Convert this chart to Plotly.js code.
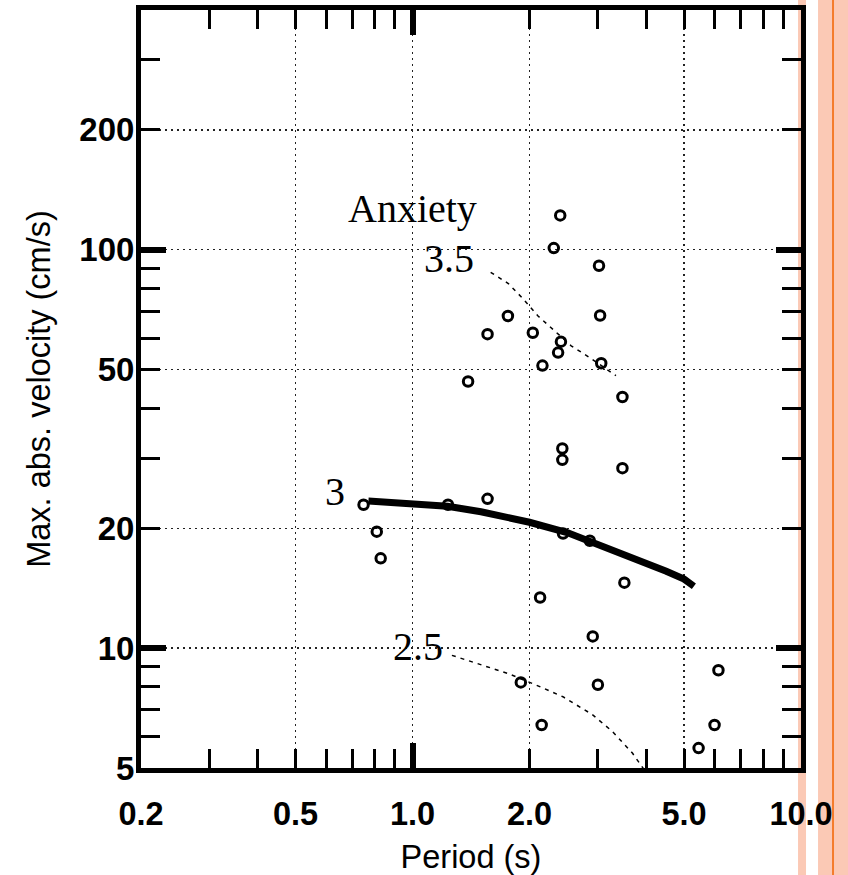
<!DOCTYPE html>
<html>
<head>
<meta charset="utf-8">
<script src="https://cdn.plot.ly/plotly-3.0.1.min.js"></script>
<style>html,body{margin:0;padding:0;background:#fff;}#chart{width:848px;height:875px;}</style>
</head>
<body>
<div id="chart"></div>
<script>
// ---- data ----
const periodX = [2.40, 2.31, 3.02, 3.04, 1.76, 1.56, 2.04, 2.41, 2.37, 2.16, 3.06, 1.39, 3.47, 2.43, 2.43, 3.47,
                 0.748, 0.809, 0.828, 1.234, 1.56, 2.44, 2.86, 3.51, 2.13, 2.91, 6.13, 1.90, 3.00, 2.15, 5.99, 5.45];
const velocityY = [122, 101, 91.2, 68.4, 68.2, 61.4, 61.9, 58.8, 55.2, 51.2, 51.9, 46.7, 42.7, 31.7, 29.7, 28.3,
                   22.9, 19.6, 16.8, 22.9, 23.7, 19.4, 18.6, 14.6, 13.4, 10.7, 8.80, 8.20, 8.09, 6.41, 6.41, 5.61];

const curve3X = [0.77, 1.0, 1.23, 1.5, 2.0, 2.5, 3.0, 3.5, 4.0, 4.5, 5.0, 5.3];
const curve3Y = [23.4, 23.1, 22.7, 22.0, 20.7, 19.5, 18.2, 17.2, 16.4, 15.6, 14.9, 14.3];

const curve35X = [1.589, 1.764, 1.934, 2.104, 2.321, 2.561, 2.852, 3.177, 3.339];
const curve35Y = [87.8, 82.3, 75.0, 68.2, 62.6, 57.4, 53.7, 50.0, 48.3];

const curve25X = [1.263, 1.493, 1.764, 2.084, 2.438, 2.909, 3.272, 3.681, 3.868, 3.93];
const curve25Y = [9.59, 9.09, 8.63, 8.07, 7.55, 6.80, 6.17, 5.45, 5.10, 4.98];

const xTickVals = [0.2, 0.5, 1, 2, 5, 10];
const xTickText = ['0.2', '0.5', '1.0', '2.0', '5.0', '10.0'];
const xMinorVals = [0.3, 0.4, 0.6, 0.7, 0.8, 0.9, 3, 4, 6, 7, 8, 9];
const xDecadeVals = [1, 10];

const yTickVals = [5, 10, 20, 50, 100, 200];
const yTickText = ['5', '10', '20', '50', '100', '200'];
const yMinorVals = [6, 7, 8, 9, 30, 40, 60, 70, 80, 90, 300];
const yDecadeVals = [10, 100];

const xRange = [0.2, 10];
const yRange = [5, 400];

const labels = [
  {text: 'Anxiety', x: 1.0, y: 127},
  {text: '3.5', x: 1.24, y: 95},
  {text: '3', x: 0.631, y: 24.7},
  {text: '2.5', x: 1.03, y: 10.1}
];

// ---- chart ----
const L = Math.log10;
const xTickFont = {family: 'Liberation Sans, Arial, sans-serif', size: 32.5, weight: 'bold', color: '#000'};
const yTickFont = {family: 'Liberation Sans, Arial, sans-serif', size: 33, weight: 'bold', color: '#000'};
const xTitleFont = {family: 'Liberation Sans, Arial, sans-serif', size: 32.5, color: '#000'};
const yTitleFont = {family: 'Liberation Sans, Arial, sans-serif', size: 32.5, color: '#000'};

const traces = [
  {x: periodX, y: velocityY, type: 'scatter', mode: 'markers',
   marker: {symbol: 'circle-open', size: 9.5, color: '#000', line: {width: 3, color: '#000'}},
   hoverinfo: 'skip'},
  {x: curve35X, y: curve35Y, type: 'scatter', mode: 'lines',
   line: {color: '#000', width: 1.5, dash: '4px,5px'}, hoverinfo: 'skip'},
  {x: curve25X, y: curve25Y, type: 'scatter', mode: 'lines',
   line: {color: '#000', width: 1.5, dash: '4px,5px'}, hoverinfo: 'skip'},
  {x: curve3X, y: curve3Y, type: 'scatter', mode: 'lines', xaxis: 'x2', yaxis: 'y2',
   line: {color: '#000', width: 7}, hoverinfo: 'skip'}
];

const gridStyle = {showgrid: true, gridcolor: '#222', gridwidth: 1.3, griddash: '1.5px,4.5px'};

const layout = {
  width: 848, height: 875,
  margin: {l: 141, r: 47, t: 10, b: 107, pad: 0},
  paper_bgcolor: '#ffffff',
  plot_bgcolor: 'rgba(0,0,0,0)',
  showlegend: false,
  xaxis: Object.assign({
    type: 'log', range: [L(xRange[0]), L(xRange[1])],
    tickmode: 'array', tickvals: xTickVals, ticktext: xTickText,
    ticks: 'inside', ticklen: 19, tickwidth: 3, tickcolor: '#000',
    showline: true, linewidth: 5, linecolor: '#000', mirror: 'ticks',
    zeroline: false, tickfont: xTickFont, ticklabelstandoff: 13,
    minor: {tickmode: 'array', tickvals: xMinorVals, ticks: 'inside', ticklen: 19, tickwidth: 3, tickcolor: '#000', showgrid: false},
    title: {text: 'Period (s)', font: xTitleFont, standoff: 17},
    automargin: false
  }, gridStyle),
  yaxis: Object.assign({
    type: 'log', range: [L(yRange[0]), L(yRange[1])],
    tickmode: 'array', tickvals: yTickVals, ticktext: yTickText,
    ticks: 'inside', ticklen: 19, tickwidth: 3, tickcolor: '#000',
    showline: true, linewidth: 5, linecolor: '#000', mirror: 'ticks',
    zeroline: false, tickfont: yTickFont, ticklabelstandoff: -5,
    minor: {tickmode: 'array', tickvals: yMinorVals, ticks: 'inside', ticklen: 19, tickwidth: 3, tickcolor: '#000', showgrid: false},
    title: {text: 'Max. abs. velocity (cm/s)', font: yTitleFont, standoff: 20},
    automargin: false
  }, gridStyle),
  xaxis2: {
    type: 'log', range: [L(xRange[0]), L(xRange[1])], overlaying: 'x', anchor: 'y2', side: 'bottom',
    tickmode: 'array', tickvals: xDecadeVals, ticks: 'inside', ticklen: 25, tickwidth: 6, tickcolor: '#000',
    mirror: 'ticks', showline: false, showgrid: false, zeroline: false, showticklabels: false
  },
  yaxis2: {
    type: 'log', range: [L(yRange[0]), L(yRange[1])], overlaying: 'y', anchor: 'x2', side: 'left',
    tickmode: 'array', tickvals: yDecadeVals, ticks: 'inside', ticklen: 25, tickwidth: 6, tickcolor: '#000',
    mirror: 'ticks', showline: false, showgrid: false, zeroline: false, showticklabels: false
  },
  annotations: labels.map(a => ({
    text: a.text, x: L(a.x), y: L(a.y), xref: 'x', yref: 'y', showarrow: false,
    xanchor: 'center', yanchor: 'middle',
    font: {family: 'Liberation Serif, Times New Roman, serif', size: 40, color: '#000'}
  })),
  shapes: [
    {type: 'rect', xref: 'paper', yref: 'paper', x0: 0.9955, x1: 1.0076, y0: -0.16, y1: 1.03,
     fillcolor: '#fbc9b5', line: {width: 0}, layer: 'below'},
    {type: 'rect', xref: 'paper', yref: 'paper', x0: 1.0258, x1: 1.08, y0: -0.16, y1: 1.03,
     fillcolor: '#fbc9b5', line: {width: 0}, layer: 'below'},
    {type: 'line', xref: 'paper', yref: 'paper', x0: 1.0485, x1: 1.0485, y0: -0.16, y1: 1.03,
     line: {color: '#f47c2c', width: 2}, layer: 'below'}
  ]
};

Plotly.newPlot('chart', traces, layout, {staticPlot: true, displayModeBar: false});
</script>
</body>
</html>
